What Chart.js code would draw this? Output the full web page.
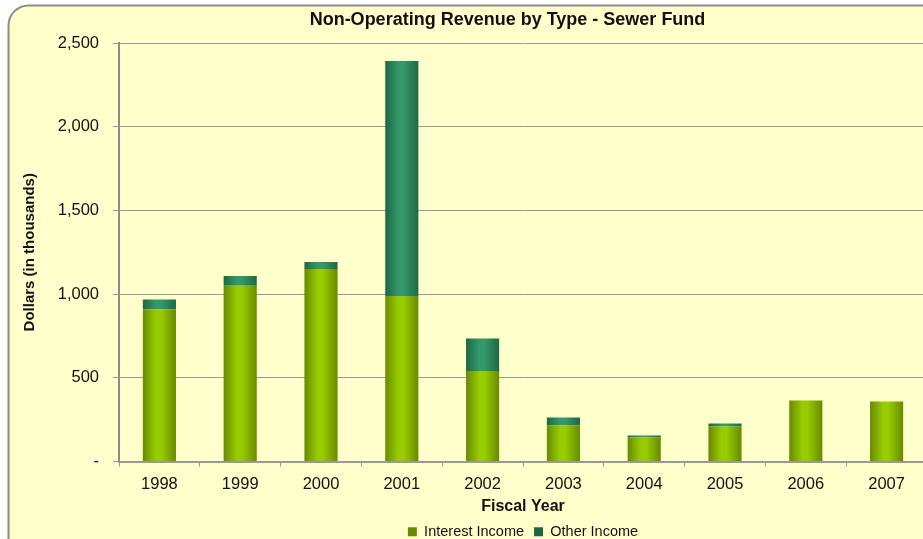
<!DOCTYPE html>
<html>
<head>
<meta charset="utf-8">
<script src="https://cdn.jsdelivr.net/npm/chart.js@4/dist/chart.umd.min.js"></script>
<style>
  html, body { margin: 0; padding: 0; background: #ffffff; overflow: hidden; }
  #wrap { position: absolute; left: 0; top: 0; width: 923px; height: 539px; overflow: hidden; }
  canvas { position: absolute; left: 0; top: 0; }
</style>
</head>
<body>
<div id="wrap"><canvas id="revChart" width="1015" height="549"></canvas></div>
<script>
// Data (dollars, in thousands)
const years = ['1998', '1999', '2000', '2001', '2002', '2003', '2004', '2005', '2006', '2007'];
const interestIncome = [908, 1050, 1150, 988, 540, 215, 143, 209, 364, 358];
const otherIncome = [60, 58, 42, 1405, 195, 48, 12, 18, 0, 0];
const yTicks = [0, 500, 1000, 1500, 2000, 2500];

const FONT = 'Liberation Sans, Arial, sans-serif';
const BAR_PCT = 0.41;

// horizontal "cylinder" shading for each bar
function barShade(edge, mid) {
    return function(ctx) {
        const chart = ctx.chart;
        const x = chart.scales.x;
        if (ctx.type !== 'data' || !x || !chart.chartArea) return mid;
        const c = x.getPixelForValue(ctx.dataIndex);
        const w = (x.width / years.length) * BAR_PCT;
        const g = chart.ctx.createLinearGradient(c - w / 2, 0, c + w / 2, 0);
        g.addColorStop(0, edge);
        g.addColorStop(0.4, mid);
        g.addColorStop(0.55, mid);
        g.addColorStop(1, edge);
        return g;
    };
}

// rounded yellow panel behind the chart
const panel = {
    id: 'panel',
    beforeDraw(chart) {
        const c = chart.ctx;
        c.save();
        c.beginPath();
        c.roundRect(8.5, 5.5, 1100, 700, 20);
        c.fillStyle = '#ffffcc';
        c.fill();
        c.lineWidth = 2;
        c.strokeStyle = '#8c8c8c';
        c.stroke();
        c.restore();
    }
};

const ctx = document.getElementById('revChart').getContext('2d');
new Chart(ctx, {
    type: 'bar',
    data: {
        labels: years,
        datasets: [{
            label: 'Interest Income',
            data: interestIncome,
            backgroundColor: barShade('#678a00', '#99cc00'),
            yAxisID: 'y',
            barPercentage: BAR_PCT,
            categoryPercentage: 1
        }, {
            label: 'Other Income',
            data: otherIncome,
            backgroundColor: barShade('#1e6745', '#33996b'),
            yAxisID: 'y',
            barPercentage: BAR_PCT,
            categoryPercentage: 1
        }]
    },
    options: {
        responsive: false,
        animation: false,
        layout: { padding: 0 },
        scales: {
            x: {
                stacked: true,
                grid: { drawOnChartArea: false, tickLength: 5, color: '#999999', offset: true },
                border: { color: '#999999', width: 2 },
                ticks: { color: '#111111', font: { family: FONT, size: 16.5 }, padding: 8 },
                title: {
                    display: true,
                    text: 'Fiscal Year',
                    color: '#111111',
                    font: { family: FONT, size: 16, weight: 'bold', lineHeight: 1 },
                    padding: { top: 0, bottom: 0 }
                },
                afterFit(s) { s.height = 53; }
            },
            y: {
                stacked: true,
                min: 0,
                max: 2500,
                afterBuildTicks(s) { s.ticks = yTicks.map(v => ({ value: v })); },
                grid: { color: '#999999', tickLength: 6 },
                border: { color: '#8c8c8c', width: 2 },
                ticks: {
                    color: '#111111',
                    font: { family: FONT, size: 16.5 },
                    padding: 14,
                    callback: v => v === 0 ? '-' : v.toLocaleString('en-US')
                },
                title: {
                    display: true,
                    text: 'Dollars (in thousands)',
                    color: '#111111',
                    font: { family: FONT, size: 15, weight: 'bold' },
                    padding: { top: 21, bottom: 0 }
                },
                afterFit(s) { s.width = 119; }
            },
            yr: {
                position: 'right',
                display: true,
                grid: { display: false },
                border: { display: false },
                ticks: { display: false },
                afterFit(s) { s.width = 88; }
            }
        },
        plugins: {
            title: {
                display: true,
                text: 'Non-Operating Revenue by Type - Sewer Fund',
                color: '#111111',
                font: { family: FONT, size: 18, weight: 'bold' },
                padding: { top: 9, bottom: 12.4 }
            },
            legend: {
                position: 'bottom',
                fullSize: false,
                labels: {
                    color: '#111111',
                    font: { family: FONT, size: 14.5 },
                    boxWidth: 9,
                    boxHeight: 9,
                    padding: 10
                }
            },
            tooltip: { enabled: false }
        }
    },
    plugins: [panel]
});
</script>
</body>
</html>
